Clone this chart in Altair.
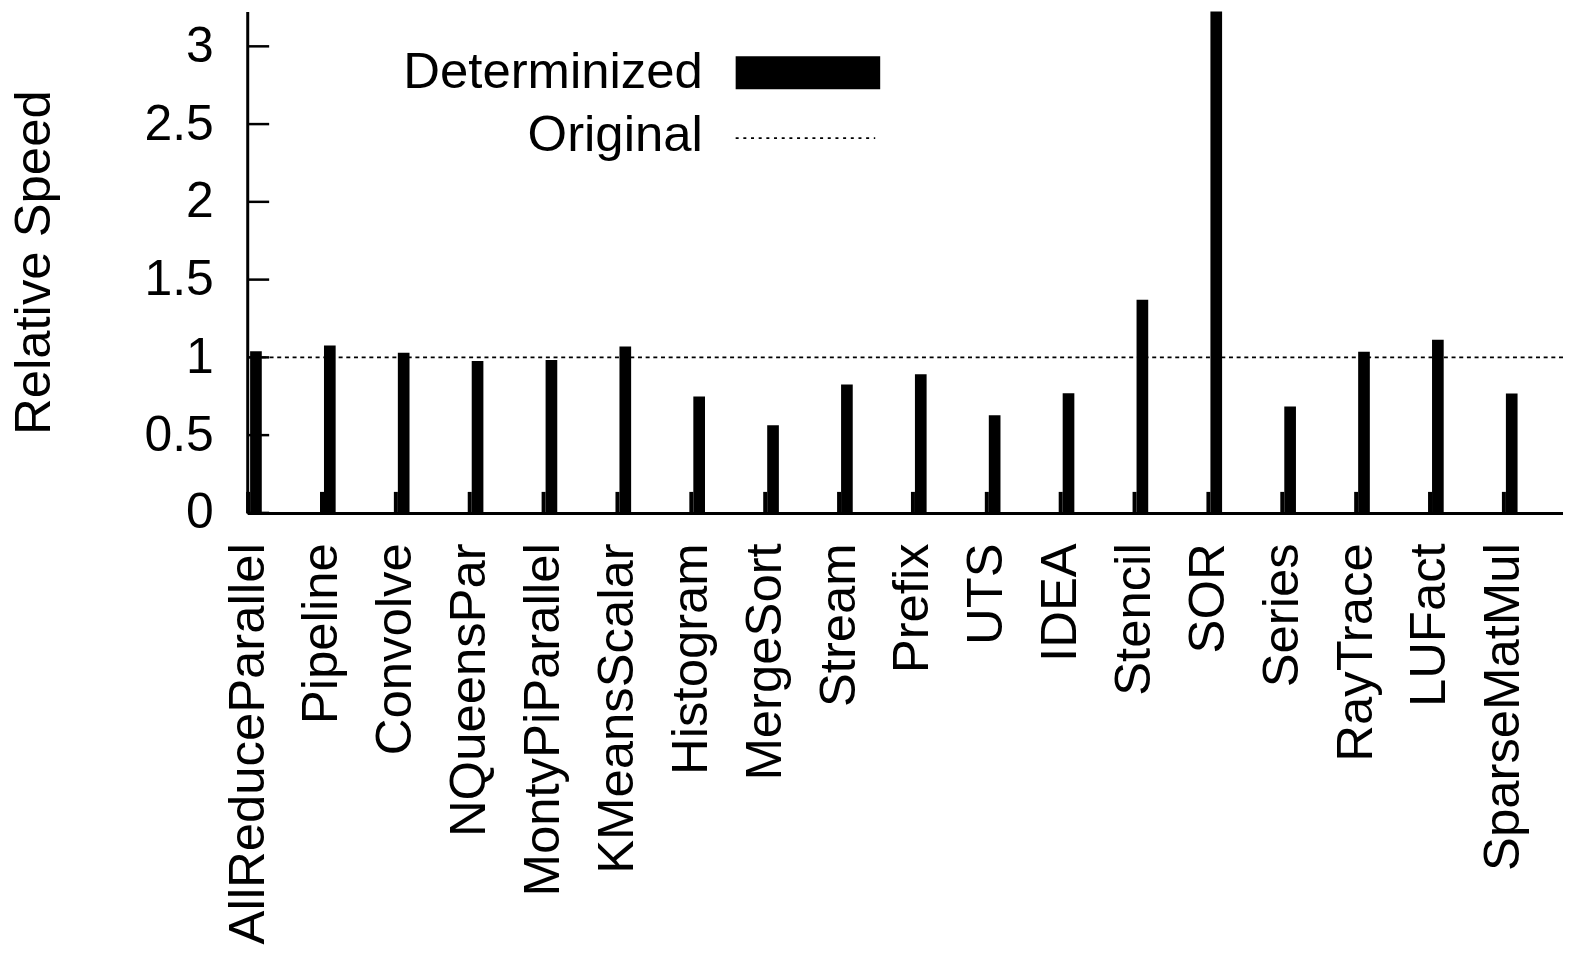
import altair as alt
import pandas as pd

categories = ["AllReduceParallel", "Pipeline", "Convolve", "NQueensPar", "MontyPiParallel",
              "KMeansScalar", "Histogram", "MergeSort", "Stream", "Prefix", "UTS", "IDEA",
              "Stencil", "SOR", "Series", "RayTrace", "LUFact", "SparseMatMul"]
determinized = [1.04, 1.077, 1.03, 0.976, 0.983, 1.07, 0.748, 0.564, 0.825, 0.891,
                0.628, 0.769, 1.37, 3.24, 0.684, 1.036, 1.113, 0.767]
original_level = [1.0]
y_ticks = [0, 0.5, 1, 1.5, 2, 2.5, 3]
legend_labels = ["Determinized", "Original"]

FONT = "Liberation Sans"
BAR_L, BAR_R = 0.027, 0.185
XTICK_H = 0.135

df = pd.DataFrame({"idx": list(range(len(categories))), "name": categories, "speed": determinized})
df["x0"] = df["idx"] + BAR_L
df["x1"] = df["idx"] + BAR_R
df["zero"] = 0.0
df["ttop"] = XTICK_H

xscale = alt.Scale(domain=[-0.012, 17.8], nice=False, zero=False)
yscale = alt.Scale(domain=[0, 3.224], nice=False, zero=False)

label_expr = "[" + ",".join("'" + c + "'" for c in categories) + "][datum.value]"

x_axis = alt.Axis(values=list(range(len(categories))), labelExpr=label_expr,
                  labelAngle=-90, labelAlign="right", labelBaseline="middle",
                  labelPadding=30, ticks=False, tickSize=0, title=None,
                  labelFontSize=51, labelOverlap=False, labelFlush=False,
                  labelBound=False, labelLimit=0)
y_axis = alt.Axis(values=y_ticks, format="~g", ticks=False, tickSize=0,
                  labelPadding=34, labelFontSize=50, labelBaseline="middle",
                  labelLimit=0,
                  title="Relative Speed", titleFontSize=51, titleFontWeight="normal",
                  titleAngle=-90, titleX=-198, titleY=251.5,
                  titleBaseline="alphabetic", titleAlign="center")

bars = alt.Chart(df).mark_rect(color="black", clip=True).encode(
    x=alt.X("x0:Q", scale=xscale, axis=x_axis),
    x2="x1:Q",
    y=alt.Y("speed:Q", scale=yscale, axis=y_axis),
    y2="zero:Q",
)

xticks = alt.Chart(df).mark_rule(color="black", strokeWidth=4).encode(
    x=alt.X("idx:Q", scale=xscale, axis=x_axis),
    y=alt.Y("zero:Q", scale=yscale, axis=y_axis),
    y2="ttop:Q",
)

yticks = alt.Chart(pd.DataFrame({"v": y_ticks})).mark_rule(color="black", strokeWidth=2.5).encode(
    x=alt.value(0), x2=alt.value(22),
    y=alt.Y("v:Q", scale=yscale, axis=y_axis),
)

orig = alt.Chart(pd.DataFrame({"v": original_level})).mark_rule(
    color="black", strokeWidth=1.6, strokeDash=[4, 3.7]).encode(
    y=alt.Y("v:Q", scale=yscale, axis=y_axis),
)

one = pd.DataFrame({"k": [0]})
leg_t1 = alt.Chart(one).mark_text(align="right", baseline="alphabetic", fontSize=51,
                                  font=FONT, color="black").encode(
    x=alt.value(457), y=alt.value(77), text=alt.value(legend_labels[0]))
leg_t2 = alt.Chart(one).mark_text(align="right", baseline="alphabetic", fontSize=51,
                                  font=FONT, color="black").encode(
    x=alt.value(457), y=alt.value(140), text=alt.value(legend_labels[1]))
leg_box = alt.Chart(one).mark_rect(color="black").encode(
    x=alt.value(490), x2=alt.value(635), y=alt.value(45), y2=alt.value(78))
leg_line = alt.Chart(one).mark_rule(color="black", strokeWidth=1.6, strokeDash=[3, 4.7]).encode(
    x=alt.value(490), x2=alt.value(630), y=alt.value(127))

chart = alt.layer(bars, orig, xticks, yticks, leg_box, leg_line, leg_t1, leg_t2).properties(
    width=1320, height=503,
    autosize=alt.AutoSizeParams(type="none"),
    padding={"left": 240, "top": 2, "right": 0, "bottom": 434},
).configure_view(stroke=None).configure_axis(
    domainColor="black", domainWidth=3, grid=False,
    labelFont=FONT, titleFont=FONT, labelColor="black", titleColor="black",
).configure_text(font=FONT)

chart.save("out.html", embed_options={"renderer": "svg", "actions": False})
